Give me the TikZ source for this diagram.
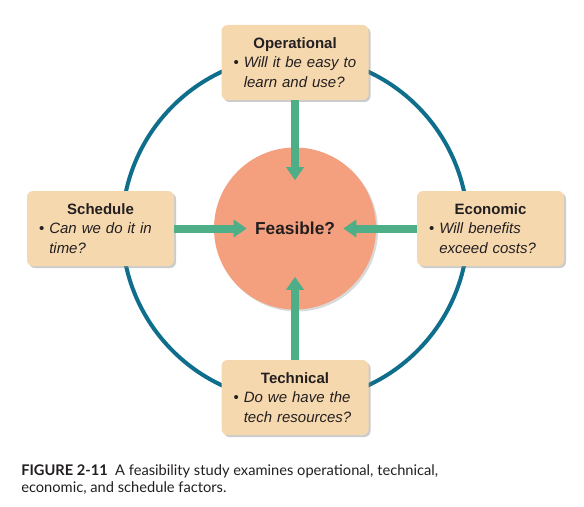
\documentclass[tikz,border=0pt]{standalone}
\usepackage{fontspec}
\setmainfont{Liberation Sans}
\newfontfamily\capfont{Lato}
\usetikzlibrary{arrows.meta, shadows}

\definecolor{ringblue}{HTML}{0F6E8C}
\definecolor{salmon}{HTML}{F4A07E}
\definecolor{peach}{HTML}{F6D8AF}
\definecolor{flowgreen}{HTML}{4DAE88}
\definecolor{inkgray}{HTML}{231F20}

\newcommand{\factortext}[3]{{\centering\bfseries #1\par}%
  \textbullet\ \textit{#2}\\\hphantom{\textbullet\ }\textit{#3}}

\begin{document}
\begin{tikzpicture}[x=0.75pt, y=-0.75pt,
    factor/.style={fill=peach, rounded corners=4.5pt,
                   minimum width=110.25pt, minimum height=56.25pt,
                   text width=92.25pt, inner xsep=9pt, align=left,
                   text=inkgray, font=\fontsize{11.25}{14.5}\selectfont,
                   drop shadow={shadow xshift=1.5pt, shadow yshift=-1.5pt,
                                opacity=.4}},
    flow/.style={line width=6pt, flowgreen,
                 -{Triangle[width=12.75pt, length=9.75pt]},
                 shorten >=-24.75pt},
    ring/.style={ringblue, line width=3pt}
  ]
  \useasboundingbox (0,0) rectangle (584,506);

  % Outer ring
  \coordinate (c) at (295,228.5);
  \draw[ring] (c) circle[radius=173];

  % Center
  \node[circle, fill=salmon, minimum size=121.5pt, inner sep=0pt,
        text=inkgray, font=\fontsize{13}{15}\selectfont\bfseries,
        drop shadow={shadow xshift=1.5pt, shadow yshift=-1.5pt, opacity=.3}]
    (feas) at (c) {Feasible?};

  % Factors
  \node[factor] (oper)  at (295,62.5)    {\factortext{Operational}{Will it be easy to}{learn and use?}};
  \node[factor] (sched) at (100.5,228.5) {\factortext{Schedule}{Can we do it in}{time?}};
  \node[factor] (econ)  at (490.5,228.5) {\factortext{Economic}{Will benefits}{exceed costs?}};
  \node[factor] (tech)  at (295,397.5)   {\factortext{Technical}{Do we have the}{tech resources?}};

  % Arrows
  \draw[flow] (oper)  -- (feas);
  \draw[flow] (sched) -- (feas);
  \draw[flow] (econ)  -- (feas);
  \draw[flow] (tech)  -- (feas);

  % Caption
  \node[anchor=north west, inner sep=0pt, align=left, text=inkgray,
        font=\capfont\fontsize{11}{13}\selectfont] (caption) at (21,464)
    {\textbf{FIGURE 2-11}\enspace A feasibility study examines operational, technical,\\
     economic, and schedule factors.};
\end{tikzpicture}
\end{document}
